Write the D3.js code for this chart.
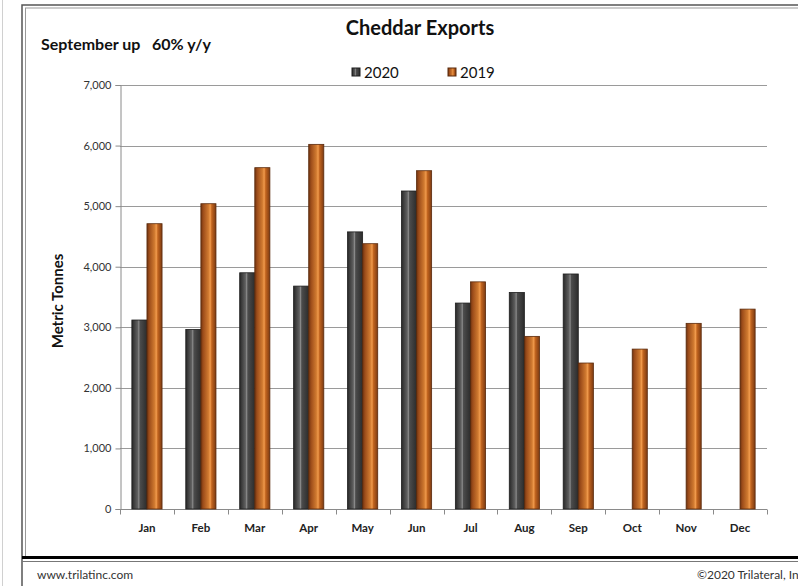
<!DOCTYPE html>
<html>
<head>
<meta charset="utf-8">
<script src="https://cdn.jsdelivr.net/npm/d3@7"></script>
<style>
body{margin:0;background:#fff;}
svg text{font-family:Lato,"Open Sans",sans-serif;}
</style>
</head>
<body>
<div id="chart"></div>
<script>
var w=798
var h=586

var months=["Jan","Feb","Mar","Apr","May","Jun","Jul","Aug","Sep","Oct","Nov","Dec"];
var years=["2020","2019"];
var exports2020=[3120,2965,3900,3680,4575,5250,3400,3575,3880,null,null,null];
var exports2019=[4710,5040,5635,6020,4380,5585,3750,2850,2410,2640,3065,3300];
var yTicks=[0,1000,2000,3000,4000,5000,6000,7000];

var svg=d3.select("#chart")
          .append("svg")
          .attr("width",w)
          .attr("height",h);

//Gradients for the bevelled bars
var defs=svg.append("defs");
var grads={
  "2020":[["0%","#262626"],["12%","#3a3a3a"],["38%","#606060"],["46%","#8a8a8a"],["54%","#4c4c4c"],["100%","#2c2c2c"]],
  "2019":[["0%","#6e3310"],["15%","#9c4c1a"],["50%","#d07a30"],["62%","#f09a4c"],["72%","#c2651f"],["100%","#7c3a12"]]
};
years.forEach(function(yr) {
  var g=defs.append("linearGradient")
            .attr("id","grad"+yr)
            .attr("x1","0%").attr("x2","100%")
            .attr("y1","0%").attr("y2","0%");
  grads[yr].forEach(function(s) {
    g.append("stop").attr("offset",s[0]).attr("stop-color",s[1]);
  });
});

//Page frame
svg.append("line").attr("x1",2.5).attr("x2",2.5).attr("y1",0).attr("y2",h)
   .attr("stroke","#d0d0d0");
svg.append("rect").attr("x",22).attr("y",5).attr("width",w+10).attr("height",h+10)
   .attr("fill","none").attr("stroke","#555").attr("stroke-width",1.5);
svg.append("rect").attr("x",25.5).attr("y",8).attr("width",w+10).attr("height",549)
   .attr("fill","none").attr("stroke","#999").attr("stroke-width",1);
svg.append("line").attr("x1",22).attr("x2",w).attr("y1",557.5).attr("y2",557.5)
   .attr("stroke","#000").attr("stroke-width",3);
svg.append("line").attr("x1",22).attr("x2",w).attr("y1",561.5).attr("y2",561.5)
   .attr("stroke","#777").attr("stroke-width",1);

//Scales
var x=d3.scaleBand()
        .domain(months)
        .range([120,767])
        .paddingInner(0.44)
        .paddingOuter(0.22);
var xSub=d3.scaleBand()
           .domain(years)
           .range([0,x.bandwidth()]);
var y=d3.scaleLinear()
        .domain([0,7000])
        .range([509,85]);

//Gridlines
svg.append("g")
   .selectAll("line")
   .data(yTicks.slice(1))
   .enter()
   .append("line")
   .attr("x1",120).attr("x2",767)
   .attr("y1",function(d) {return Math.round(y(d))+0.5;})
   .attr("y2",function(d) {return Math.round(y(d))+0.5;})
   .attr("stroke","#9a9a9a");

//Y axis
var yAxis=svg.append("g")
   .attr("transform","translate(120.5,0)")
   .call(d3.axisLeft(y).tickValues(yTicks).tickFormat(d3.format(",")).tickSize(5).tickPadding(4));
yAxis.select(".domain").attr("stroke","#8a8a8a");
yAxis.selectAll(".tick line").attr("stroke","#8a8a8a");
yAxis.selectAll("text").attr("fill","#333").style("font-size","11px");

//X axis with ticks at category boundaries
var xAxisG=svg.append("g").attr("transform","translate(0,509.5)");
xAxisG.append("line").attr("x1",120).attr("x2",767).attr("y1",0).attr("y2",0)
      .attr("stroke","#8a8a8a");
xAxisG.selectAll(".bound")
      .data(months.concat(["end"]))
      .enter()
      .append("line")
      .attr("x1",function(d,i) {return Math.round(120+i*647/12)+0.5;})
      .attr("x2",function(d,i) {return Math.round(120+i*647/12)+0.5;})
      .attr("y1",0).attr("y2",5)
      .attr("stroke","#8a8a8a");
xAxisG.selectAll(".lbl")
      .data(months)
      .enter()
      .append("text")
      .attr("x",function(d) {return x(d)+x.bandwidth()/2;})
      .attr("y",22)
      .attr("text-anchor","middle")
      .attr("fill","#222")
      .style("font-size","11.5px")
      .style("font-weight","bold")
      .text(function(d) {return d;});

//Bars
var series={"2020":exports2020,"2019":exports2019};
years.forEach(function(yr) {
  svg.append("g")
     .selectAll("rect")
     .data(months.map(function(m,i) {return {month:m,value:series[yr][i]};})
                 .filter(function(d) {return d.value!=null;}))
     .enter()
     .append("rect")
     .attr("x",function(d) {return x(d.month)+xSub(yr);})
     .attr("y",function(d) {return y(d.value);})
     .attr("width",xSub.bandwidth())
     .attr("height",function(d) {return y(0)-y(d.value);})
     .attr("fill","url(#grad"+yr+")")
     .attr("stroke",yr=="2020"?"#1e1e1e":"#5a2a0c")
     .attr("stroke-width",0.8);
});

//Titles
svg.append("text")
   .attr("x",420).attr("y",35)
   .attr("text-anchor","middle")
   .style("font-size","20px").style("font-weight","bold")
   .attr("fill","#111")
   .text("Cheddar Exports");
svg.append("text")
   .attr("x",41).attr("y",50)
   .style("font-size","16px").style("font-weight","bold")
   .attr("fill","#111")
   .attr("xml:space","preserve")
   .text("September up   60% y/y");

//Axis title
svg.append("text")
   .attr("transform","translate(63,301) rotate(-90)")
   .attr("text-anchor","middle")
   .style("font-size","15px").style("font-weight","bold")
   .attr("fill","#111")
   .text("Metric Tonnes");

//Legend
var legendX={"2020":352,"2019":448};
years.forEach(function(yr) {
  svg.append("rect")
     .attr("x",legendX[yr]).attr("y",68)
     .attr("width",8).attr("height",8)
     .attr("fill","url(#grad"+yr+")")
     .attr("stroke",yr=="2020"?"#1e1e1e":"#5a2a0c");
  svg.append("text")
     .attr("x",legendX[yr]+12).attr("y",77.5)
     .style("font-size","15px")
     .attr("fill","#111")
     .text(yr);
});

//Footer
svg.append("text")
   .attr("x",37).attr("y",579)
   .style("font-size","12px")
   .attr("fill","#333")
   .text("www.trilatinc.com");
svg.append("text")
   .attr("x",697).attr("y",579)
   .style("font-size","12px")
   .attr("fill","#333")
   .text("©2020 Trilateral, Inc.");
</script>
</body>
</html>
